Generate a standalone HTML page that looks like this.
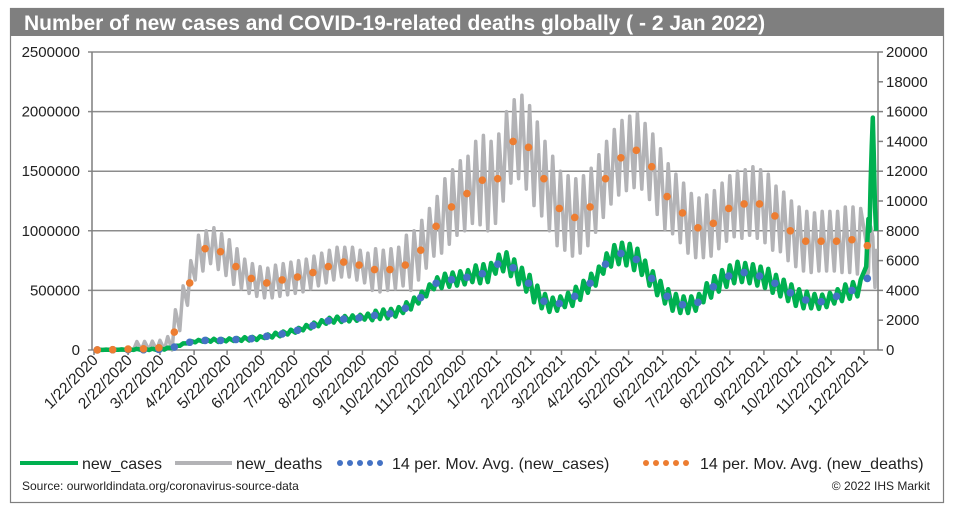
<!DOCTYPE html>
<html><head><meta charset="utf-8">
<style>
body{margin:0;background:#fff;font-family:"Liberation Sans",Arial,sans-serif;}
#wrap{position:relative;width:958px;height:523px;overflow:hidden;}
</style></head>
<body>
<div id="wrap">
<svg id="chart" width="958" height="523"></svg>
</div>
<script>
// ---- data ----
const startDate = "1/22/2020";
// weekly 14-day moving averages, new cases (thousands)
const casesMA = [1,2,2,3,3,2,2,3, 5,12,25,45,65, 75,80,82,80,85, 88,92,95,100, 115,125,135,150,165, 185,205,225,245, 255,260,265,270, 280,290,300,305, 320,350,390,440,500, 560,580,590,600, 610,630,640,650, 720,740,690,620,560, 470,410,380,390, 420,450,500,560, 620,720,790,810,800, 760,690,600,520, 450,400,380,380, 400,470,530,580,620, 650,650,640,620, 600,560,520,480, 440,420,410,405,420, 450,480,500,520, 600,780];
// weekly 14-day moving averages, new deaths
const deathsMA = [5,10,20,40,60,70,80,90, 150,400,1200,2800,4500, 6200,6800,7000,6600,6200, 5600,5100,4800,4600, 4500,4600,4700,4800,4900, 5000,5200,5400,5600, 5800,5900,5900,5700, 5500,5400,5300,5400, 5500,5700,6000,6700,7500, 8300,9000,9600,10200, 10500,11000,11400,11000, 11500,13000,14000,14300,13600, 12500,11500,10500,9500, 9200,8900,9100,9600, 10500,11500,12300,12900,13200, 13400,13000,12300,11300, 10300,9800,9200,8500, 8200,8200,8500,9000,9500, 9800,9800,10000,9800, 9500,9000,8600,8000, 7600,7300,7200,7300,7300, 7300,7400,7400,7300, 7000,6700];
// monthly half-range of daily oscillation (Jan 2020 .. Jan 2022)
const casesSwing = [1,1,8,10,12,15,20,25,25,40,50,60,80,70,60,80,90,60,70,90,80,70,60,70,70];
const deathsSwing = [20,50,500,1500,1200,1000,1100,1100,1000,1400,2000,2500,3000,2800,2500,2600,2500,2200,2000,2200,2300,2000,2000,2200,2200];
// final daily new cases (thousands), 12/24/2021 .. 1/2/2022
const tailCases = [700,900,1100,1000,1400,1700,1950,1600,1200,1000];
const tailDeaths = [7200,5000,5200,7500,8300,8000,7600,5500,4200,6800];
const leftTicks = [0,500000,1000000,1500000,2000000,2500000];
const rightTicks = [0,2000,4000,6000,8000,10000,12000,14000,16000,18000,20000];
const xLabels = ["1/22/2020","2/22/2020","3/22/2020","4/22/2020","5/22/2020","6/22/2020","7/22/2020","8/22/2020","9/22/2020","10/22/2020","11/22/2020","12/22/2020","1/22/2021","2/22/2021","3/22/2021","4/22/2021","5/22/2021","6/22/2021","7/22/2021","8/22/2021","9/22/2021","10/22/2021","11/22/2021","12/22/2021"];

// ---- geometry ----
const PL=92, PR=878, PT=52, PB=350, X0=94, PXD=1.1;
const yL = v => PB - v/2500000*(PB-PT);
const yR = v => PB - v/20000*(PB-PT);
const xD = d => X0 + d*PXD;
const base = new Date(2020,0,22);
const dayOf = s => { const p=s.split('/'); return Math.round((new Date(+p[2],+p[0]-1,+p[1]) - base)/86400000); };
const monthIdx = d => { const dt=new Date(base.getTime()+d*86400000); return (dt.getFullYear()-2020)*12+dt.getMonth(); };

const svg = document.getElementById('chart');
const NS = "http://www.w3.org/2000/svg";
function mk(tag, attrs, parent){ const e=document.createElementNS(NS,tag); for(const k in attrs) e.setAttribute(k,attrs[k]); (parent||svg).appendChild(e); return e; }

// frame & title
const frame = mk('rect',{x:10.5,y:8.5,width:933,height:494,fill:'#fff',stroke:'#7f7f7f','stroke-width':1.2});


const tb = mk('rect',{x:10,y:8,width:934,height:28,fill:'#7f7f7f'});


const title = mk('text',{x:24,y:30,fill:'#fff','font-size':21,'font-weight':'bold'});
title.textContent = "Number of new cases and COVID-19-related deaths globally ( - 2 Jan 2022)";



// gridlines and ticks
leftTicks.forEach(v=>{
  const g = mk('line',{x1:PL-4,x2:PR,y1:yL(v),y2:yL(v),stroke:'#8c8c8c','stroke-width':1.5});
  
  
  const t = mk('text',{x:80,y:yL(v)+5,'text-anchor':'end','font-size':15,fill:'#222'});
  t.textContent = v;
  
  
});
rightTicks.forEach(v=>{
  const tk = mk('line',{x1:PR,x2:PR+5,y1:yR(v),y2:yR(v),stroke:'#7f7f7f','stroke-width':1.5});
  
  
  const t = mk('text',{x:886,y:yR(v)+5,'font-size':15,fill:'#222'});
  t.textContent = v;
  
  
});
const axL = mk('line',{x1:PL,x2:PL,y1:PT,y2:PB,stroke:'#7f7f7f','stroke-width':1.5});


const axR = mk('line',{x1:PR,x2:PR,y1:PT,y2:PB,stroke:'#7f7f7f','stroke-width':1.5});


xLabels.forEach(s=>{
  const x = xD(dayOf(s));
  const tk = mk('line',{x1:x,x2:x,y1:PB,y2:PB+5,stroke:'#7f7f7f','stroke-width':1.5});
  
  
  const t = mk('text',{x:x+5,y:PB+11,'text-anchor':'end','font-size':15.5,fill:'#222',transform:`rotate(-45 ${x+5} ${PB+11})`});
  t.textContent = s;
  
  
});

// daily series built from weekly MA + monthly swing
function dailyPts(ma, swing, tail, yf, scale){
  const pts=[];
  const nW = ma.length;
  for(let w=0; w<nW; w++){
    const d0 = w*7+1, d1 = w*7+4;
    if(d1 > 702) break;
    const s0 = swing[monthIdx(d0)], s1 = swing[monthIdx(d1)];
    pts.push([xD(d0), yf(Math.max(0,ma[w]-s0)*scale)]);
    pts.push([xD(d1), yf((ma[w]+s1)*scale)]);
  }
  tail.forEach((v,i)=>pts.push([xD(702+i), yf(v*scale)]));
  return pts.map(p=>p[0].toFixed(1)+','+p[1].toFixed(1)).join(' ');
}
const deathsLine = mk('polyline',{points:dailyPts(deathsMA,deathsSwing,tailDeaths,yR,1),fill:'none',stroke:'#b3b3b6','stroke-width':3.5,'stroke-linejoin':'round'});


const casesLine = mk('polyline',{points:dailyPts(casesMA,casesSwing,tailCases,yL,1000),fill:'none',stroke:'#00b050','stroke-width':4.5,'stroke-linejoin':'round'});



// moving-average dots
for(let w=0; w<casesMA.length; w+=2){
  const c = mk('circle',{cx:xD(w*7+3),cy:yL(casesMA[w]*1000),r:3.8,fill:'#4472c4'});
  
  
}
for(let w=0; w<deathsMA.length; w+=2){
  const c = mk('circle',{cx:xD(w*7+3),cy:yR(deathsMA[w]),r:3.8,fill:'#ed7d31'});
  
  
}

// legend
const LY = 463;
function legendLine(x1,x2,col,name){ const l=mk('line',{x1:x1,x2:x2,y1:LY,y2:LY,stroke:col,'stroke-width':4});   }
function legendDots(x,col,name){ for(let i=0;i<5;i++){ const c=mk('circle',{cx:x+i*10,cy:LY,r:3,fill:col});   } }
function legendText(x,s,name){ const t=mk('text',{x:x,y:LY+6,'font-size':16,fill:'#222'}); t.textContent=s;   }
legendText(82,'new_cases','legend-cases-label');
legendText(236,'new_deaths','legend-deaths-label');
legendText(392,'14 per. Mov. Avg. (new_cases)','legend-cases-ma-label');
legendText(700,'14 per. Mov. Avg. (new_deaths)','legend-deaths-ma-label');
legendLine(20,78,'#00b050','legend-cases-swatch');
legendLine(175,232,'#b3b3b6','legend-deaths-swatch');
legendDots(340,'#4472c4','legend-cases-ma-swatch');
legendDots(646,'#ed7d31','legend-deaths-ma-swatch');

const src = mk('text',{x:22,y:490,'font-size':12,fill:'#222'});
src.textContent = "Source: ourworldindata.org/coronavirus-source-data";


const cr = mk('text',{x:930,y:490,'font-size':12,fill:'#222','text-anchor':'end'});
cr.textContent = "© 2022 IHS Markit";


</script>
</body></html>
